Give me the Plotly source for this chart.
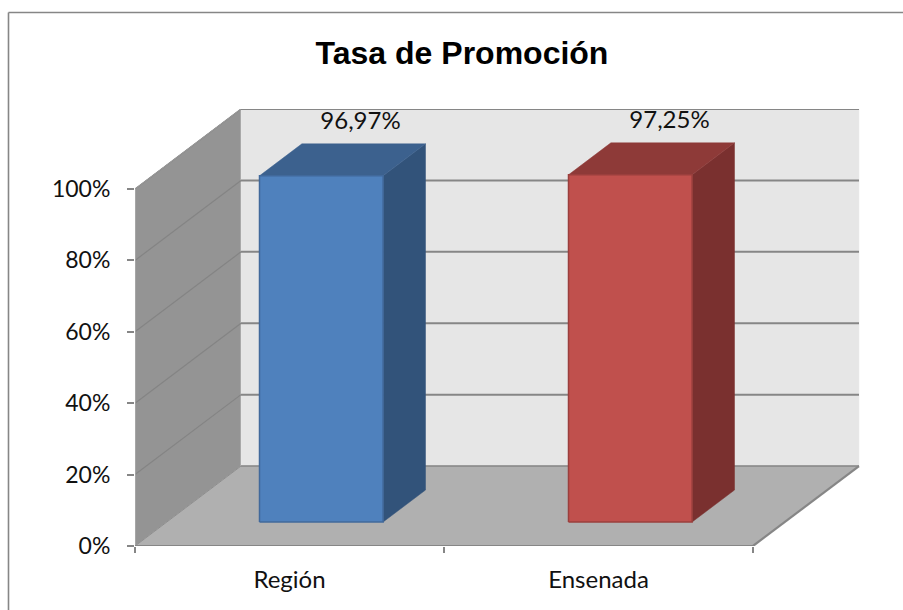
import plotly.graph_objects as go

# --- data ---
categories = ["Región", "Ensenada"]
values = [96.97, 97.25]
value_labels = ["96,97%", "97,25%"]
y_ticks = [0, 20, 40, 60, 80, 100]
title_text = "Tasa de Promoción"

# --- styles ---
front_colors = ["#4f81bd", "#c0504d"]
edge_colors = ["#41699b", "#9a3f3d"]
top_colors = ["#3c618e", "#8e3a38"]
side_colors = ["#32537a", "#7a302f"]
GRID = "#868686"
FONT = "Lato"
W, H = 903, 610
L, R, T, B = 135, 42, 109, 64

# --- oblique projection expressed in axis units ---
X_SHEAR = 106 / 309   # x units per unit of depth
Y_SHEAR = 22.4        # % units per unit of depth
N = len(categories)
BAR_LO, BAR_HI = 0.3, 0.7


def proj(x, y, d):
    return x + X_SHEAR * d, y + Y_SHEAR * d


def poly(fig, pts, fill, line=None, width=0.0):
    px = [proj(*p) for p in pts]
    fig.add_trace(go.Scatter(
        x=[p[0] for p in px] + [px[0][0]],
        y=[p[1] for p in px] + [px[0][1]],
        mode="lines", fill="toself", fillcolor=fill,
        line=dict(color=line or fill, width=width),
        hoverinfo="skip", showlegend=False, cliponaxis=False,
    ))


def seg(fig, pts, color=GRID, width=1.5):
    px = [proj(*p) for p in pts]
    fig.add_trace(go.Scatter(
        x=[p[0] for p in px], y=[p[1] for p in px], mode="lines",
        line=dict(color=color, width=width),
        hoverinfo="skip", showlegend=False, cliponaxis=False,
    ))


fig = go.Figure()
top = max(y_ticks)

# walls and floor
poly(fig, [(0, 0, 0), (0, 0, 1), (0, top, 1), (0, top, 0)], "#949494", "#949494", 0.5)
poly(fig, [(0, 0, 1), (N, 0, 1), (N, top, 1), (0, top, 1)], "#e6e6e6", "#e9e9e9", 0.5)
poly(fig, [(0, 0, 0), (N, 0, 0), (N, 0, 1), (0, 0, 1)], "#b0b0b0", "#b0b0b0", 0.5)

# gridlines
for t in y_ticks[1:]:
    seg(fig, [(0, t, 0), (0, t, 1)], "#848484", 1.2)
    seg(fig, [(0, t, 1), (N, t, 1)], GRID, 2)
seg(fig, [(0, 0, 0), (0, 0, 1)], "#8e8e8e", 1)
seg(fig, [(0, 0, 1), (N, 0, 1)], GRID, 1.5)
seg(fig, [(0, top, 0), (0, top, 1)], "#9a9a9a", 1)
seg(fig, [(0, 0, 0), (0, top, 0)], "#b8b8b8", 1)
seg(fig, [(0, 0, 0), (N, 0, 0)], GRID, 2.2)
seg(fig, [(N, 0, 0), (N, 0, 1)], GRID, 2.2)

# bars
for i, v in enumerate(values):
    x0, x1 = i + BAR_LO, i + BAR_HI
    d0, d1 = BAR_LO, BAR_HI
    poly(fig, [(x1, 0, d0), (x1, 0, d1), (x1, v, d1), (x1, v, d0)], side_colors[i], side_colors[i], 0.5)
    poly(fig, [(x0, v, d0), (x1, v, d0), (x1, v, d1), (x0, v, d1)], top_colors[i], top_colors[i], 0.5)
    poly(fig, [(x0, 0, d0), (x1, 0, d0), (x1, v, d0), (x0, v, d0)], front_colors[i], edge_colors[i], 1.5)

# data labels
LABEL_DEPTH, LABEL_LIFT = 0.67, 6.5
lx, ly = [], []
for i, v in enumerate(values):
    a, b = proj(i + 0.5, v + LABEL_LIFT, LABEL_DEPTH)
    lx.append(a)
    ly.append(b)
fig.add_trace(go.Scatter(
    x=lx, y=ly, text=value_labels, mode="text", textposition="middle center",
    textfont=dict(family=FONT, size=24, color="#111111"),
    hoverinfo="skip", showlegend=False, cliponaxis=False,
))

px_w = W - L - R
border = dict(type="line", xref="paper", yref="paper",
              line=dict(color=GRID, width=1.6), layer="above")
fig.update_layout(
    width=W, height=H, autosize=False,
    margin=dict(l=L, r=R, t=T, b=B, pad=0),
    paper_bgcolor="white", plot_bgcolor="rgba(0,0,0,0)",
    title=dict(text=title_text, x=462 / W, xanchor="center",
               y=1 - 53 / H, yanchor="middle", yref="container",
               font=dict(family="Liberation Sans", size=32, color="black", weight="bold")),
    xaxis=dict(range=[0, px_w / 309], showgrid=False, zeroline=False, showline=False,
               tickmode="array", tickvals=[i + 0.5 for i in range(N)], ticktext=categories,
               ticks="", ticklabelstandoff=17,
               tickfont=dict(family=FONT, size=24, color="#111111"),
               minor=dict(tickmode="array", tickvals=list(range(N + 1)), ticks="outside",
                          ticklen=6, tickwidth=1.5, tickcolor=GRID, showgrid=False)),
    yaxis=dict(range=[0, (H - T - B) / 3.57], showgrid=False, zeroline=False, showline=False,
               tickmode="array", tickvals=y_ticks, ticktext=[f"{t}%" for t in y_ticks],
               ticks="outside", ticklen=7, tickwidth=1.5, tickcolor=GRID, ticklabelstandoff=12,
               tickfont=dict(family=FONT, size=23, color="#111111")),
    shapes=[
        dict(border, x0=(8.5 - L) / px_w, x1=(8.5 - L) / px_w, y0=-B / (H - T - B), y1=1 + (T - 12.5) / (H - T - B)),
        dict(border, x0=(8.5 - L) / px_w, x1=(W - L) / px_w, y0=1 + (T - 12.5) / (H - T - B), y1=1 + (T - 12.5) / (H - T - B)),
    ],
)
fig.write_html("out.html", config={"displayModeBar": False},
               post_script="document.body.style.margin='0';")
